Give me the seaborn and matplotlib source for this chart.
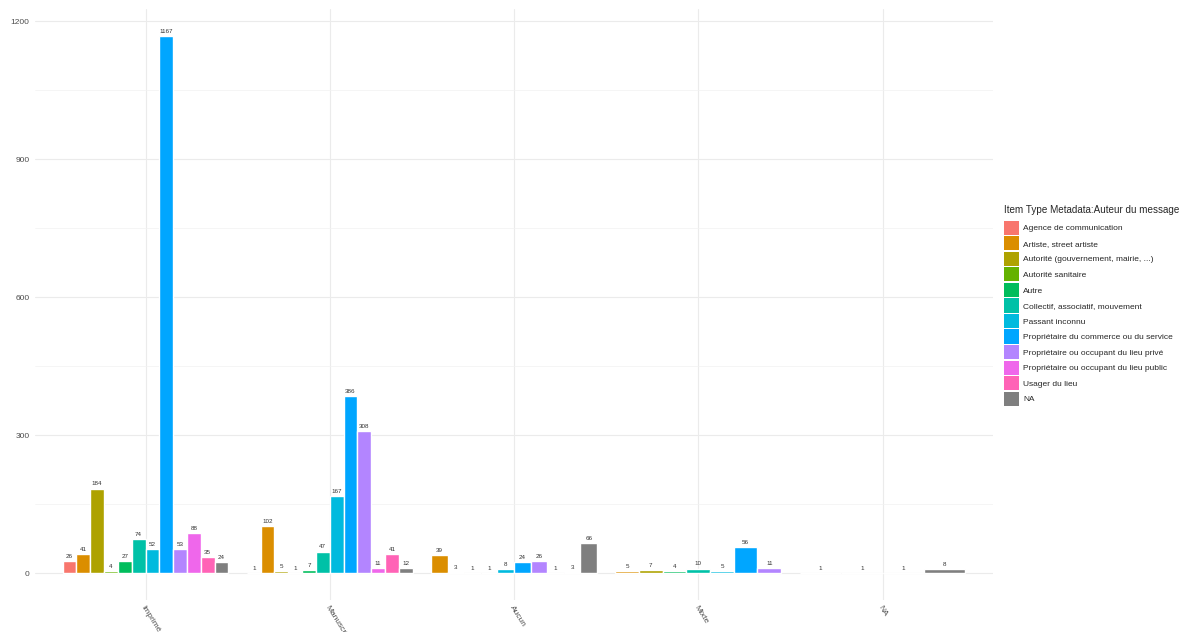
import matplotlib
matplotlib.use("Agg")
import matplotlib.pyplot as plt
from matplotlib.patches import Patch
import pandas as pd
import seaborn as sns

GROUPS = ["Imprimé", "Manuscrit", "Aucun", "Mixte", "NA"]
AUTHORS = [
    "Agence de communication",
    "Artiste, street artiste",
    "Autorité (gouvernement, mairie, ...)",
    "Autorité sanitaire",
    "Autre",
    "Collectif, associatif, mouvement",
    "Passant inconnu",
    "Propriétaire du commerce ou du service",
    "Propriétaire ou occupant du lieu privé",
    "Propriétaire ou occupant du lieu public",
    "Usager du lieu",
    "NA",
]
COLORS = [
    "#F8766D", "#DB8E00", "#AEA200", "#64B200", "#00BD5C", "#00C1A7",
    "#00BADE", "#00A6FF", "#B385FF", "#EF67EB", "#FF63B6", "#7F7F7F",
]

# counts per support type, None = category absent in that group
IMPRIME = [26, 41, 184, 4, 27, 74, 52, 1167, 53, 88, 35, 24]
MANUSCRIT = [1, 102, 5, 1, 7, 47, 167, 386, 308, 11, 41, 12]
AUCUN = [None, 39, 3, 1, 1, None, 8, 24, 26, 1, 3, 66]
MIXTE = [None, 5, 7, None, 4, 10, 5, 56, 11, None, None, None]
NA_GROUP = [None, 1, None, None, None, 1, None, 1, None, None, None, 8]

palette = dict(zip(AUTHORS, COLORS))

rows = []
for grp, vals in zip(GROUPS, [IMPRIME, MANUSCRIT, AUCUN, MIXTE, NA_GROUP]):
    for author, v in zip(AUTHORS, vals):
        if v is not None:
            rows.append({"support": grp, "author": author, "count": v})
df = pd.DataFrame(rows)

sns.set_style("white")
plt.rcParams["font.family"] = ["Liberation Sans", "DejaVu Sans"]

fig = plt.figure(figsize=(11.89, 6.32), dpi=100)
ax = fig.add_axes([0.0294, 0.0506, 0.8058, 0.9344])

# ggplot-style dodge: bars in a group share the full group width
for grp in GROUPS:
    sub = df[df["support"] == grp]
    present = [a for a in AUTHORS if a in set(sub["author"])]
    sns.barplot(
        data=sub, x="support", y="count", hue="author",
        order=GROUPS, hue_order=present, palette=palette,
        width=0.9, saturation=1, errorbar=None, legend=False, ax=ax,
    )

for c in ax.containers:
    ax.bar_label(c, fmt="{:.0f}", fontsize=4.5, padding=1.5, color="#333333")

ax.set_xlim(-0.6, 4.6)
ax.set_ylim(-58.35, 1225.35)
ax.set_yticks([0, 300, 600, 900, 1200])
ax.set_yticks([150, 450, 750, 1050], minor=True)
ax.grid(True, which="major", color="#EBEBEB", linewidth=0.8)
ax.grid(True, which="minor", axis="y", color="#F2F2F2", linewidth=0.5)
ax.set_axisbelow(True)
for s in ax.spines.values():
    s.set_visible(False)
ax.set_xlabel("")
ax.set_ylabel("")
ax.tick_params(axis="both", which="both", length=0, colors="#4D4D4D", labelsize=6)
ax.tick_params(axis="y", pad=4)
ax.tick_params(axis="x", pad=3)
for lab in ax.get_xticklabels():
    lab.set_rotation(-58)
    lab.set_ha("left")
    lab.set_va("top")
    lab.set_rotation_mode("anchor")

handles = [Patch(facecolor=palette[a], edgecolor="none", label=a) for a in AUTHORS]
leg = fig.legend(
    handles=handles, title="Item Type Metadata:Auteur du message",
    loc="upper left", bbox_to_anchor=(1004 / 1189, 1 - 205 / 632),
    frameon=False, fontsize=6, title_fontsize=7.1, alignment="left",
    handlelength=1.8, handleheight=2.25, labelspacing=0.16, handletextpad=0.5,
    borderaxespad=0, borderpad=0,
)
leg._legend_box.sep = 4

fig.savefig("out.png", dpi=100)
